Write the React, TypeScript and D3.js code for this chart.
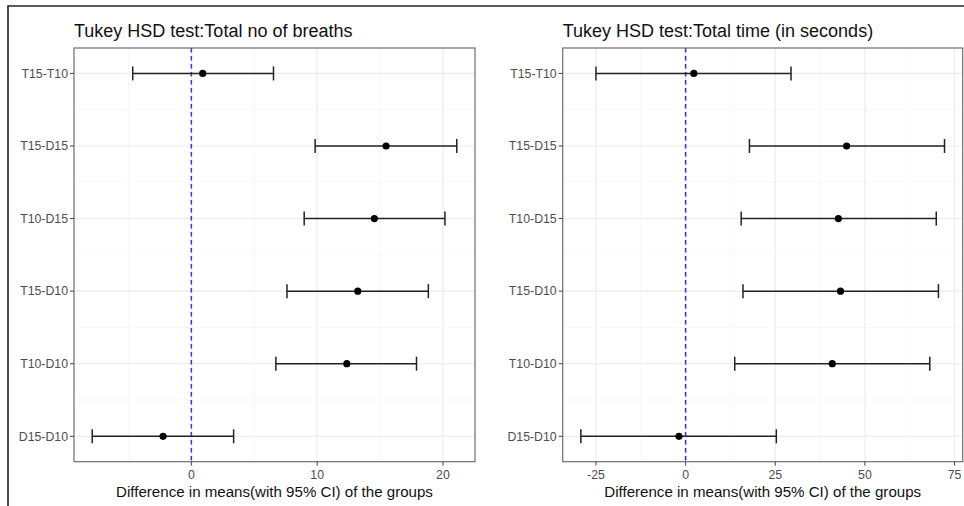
import React from 'react';
import * as d3 from 'd3';

// comparisons, top to bottom
const categories = ['T15-T10', 'T15-D15', 'T10-D15', 'T15-D10', 'T10-D10', 'D15-D10'];

// left panel: total no of breaths
const breathsDiff = [0.9, 15.48, 14.55, 13.23, 12.36, -2.25];
const breathsLwr = [-4.66, 9.84, 8.97, 7.6, 6.72, -7.88];
const breathsUpr = [6.53, 21.1, 20.16, 18.84, 17.9, 3.36];
const breathsTicks = [0, 10, 20];
const breathsMinor = [-5, 5, 15];

// right panel: total time (in seconds)
const timeDiff = [2.3, 44.9, 42.6, 43.2, 40.9, -1.85];
const timeLwr = [-25.0, 17.8, 15.5, 16.0, 13.7, -29.2];
const timeUpr = [29.4, 72.2, 69.9, 70.5, 68.1, 25.3];
const timeTicks = [-25, 0, 25, 50, 75];
const timeMinor = [-12.5, 12.5, 37.5, 62.5];

const FONT = '"Liberation Sans", Arial, Helvetica, sans-serif';
const TOP = 48;
const BOTTOM = 461.7;

type PanelProps = {
  title: string;
  left: number;
  right: number;
  diff: number[];
  lwr: number[];
  upr: number[];
  ticks: number[];
  minor: number[];
};

const Panel = ({ title, left, right, diff, lwr, upr, ticks, minor }: PanelProps) => {
  // ggplot style 5% expansion of the data range
  const lo = d3.min(lwr) as number;
  const hi = d3.max(upr) as number;
  const pad = (hi - lo) * 0.05;
  const x = d3.scaleLinear().domain([lo - pad, hi + pad]).range([left, right]);
  const y = d3.scalePoint<string>().domain(categories).range([TOP, BOTTOM]).padding(0.35);
  const step = y.step();
  const rows = categories.map((c, i) => ({ c, d: diff[i], l: lwr[i], u: upr[i], cy: y(c) as number }));
  const minorY = categories.slice(1).map(c => (y(c) as number) - step / 2);

  return (
    <g>
      <text x={left} y={37} fontSize={18} fill="#111" fontFamily={FONT}>{title}</text>
      {/* grid */}
      {minor.map(v => (
        <line key={'mx' + v} x1={x(v)} x2={x(v)} y1={TOP} y2={BOTTOM} stroke="#F2F2F2" strokeWidth={0.6} />
      ))}
      {minorY.map((v, i) => (
        <line key={'my' + i} x1={left} x2={right} y1={v} y2={v} stroke="#F2F2F2" strokeWidth={0.6} />
      ))}
      {ticks.map(v => (
        <line key={'gx' + v} x1={x(v)} x2={x(v)} y1={TOP} y2={BOTTOM} stroke="#EBEBEB" strokeWidth={1.1} />
      ))}
      {rows.map(r => (
        <line key={'gy' + r.c} x1={left} x2={right} y1={r.cy} y2={r.cy} stroke="#EBEBEB" strokeWidth={1.1} />
      ))}
      {/* zero reference */}
      <line x1={x(0)} x2={x(0)} y1={TOP} y2={BOTTOM} stroke="#3A3AC8" strokeWidth={1.6} strokeDasharray="4.5 3.5" />
      {/* error bars */}
      {rows.map(r => (
        <g key={'eb' + r.c} stroke="#222" strokeWidth={1.5}>
          <line x1={x(r.l)} x2={x(r.u)} y1={r.cy} y2={r.cy} />
          <line x1={x(r.l)} x2={x(r.l)} y1={r.cy - 7} y2={r.cy + 7} />
          <line x1={x(r.u)} x2={x(r.u)} y1={r.cy - 7} y2={r.cy + 7} />
        </g>
      ))}
      {rows.map(r => (
        <circle key={'pt' + r.c} cx={x(r.d)} cy={r.cy} r={3.6} fill="#000" />
      ))}
      {/* panel border */}
      <rect x={left} y={TOP} width={right - left} height={BOTTOM - TOP} fill="none" stroke="#6E6E6E" strokeWidth={1.2} />
      {/* y axis */}
      {rows.map(r => (
        <g key={'yt' + r.c}>
          <line x1={left - 4} x2={left} y1={r.cy} y2={r.cy} stroke="#444" strokeWidth={1} />
          <text x={left - 6} y={r.cy + 4.3} textAnchor="end" fontSize={12.3} fill="#4D4D4D" fontFamily={FONT}>{r.c}</text>
        </g>
      ))}
      {/* x axis */}
      {ticks.map(v => (
        <g key={'xt' + v}>
          <line x1={x(v)} x2={x(v)} y1={BOTTOM} y2={BOTTOM + 4} stroke="#444" strokeWidth={1} />
          <text x={x(v)} y={478.5} textAnchor="middle" fontSize={12.3} fill="#4D4D4D" fontFamily={FONT}>{v}</text>
        </g>
      ))}
      <text x={(left + right) / 2} y={496.5} textAnchor="middle" fontSize={15.1} fill="#111" fontFamily={FONT}>
        Difference in means(with 95% CI) of the groups
      </text>
    </g>
  );
};

export default function App() {
  return (
    <svg width={964} height={506} style={{ position: 'absolute', left: 0, top: 0, background: '#fff' }}>
      <rect width={964} height={506} fill="#fff" />
      <line x1={7.5} x2={964} y1={6} y2={6} stroke="#222" strokeWidth={1.6} />
      <line x1={8} x2={8} y1={5.5} y2={506} stroke="#222" strokeWidth={1.6} />
      <Panel title="Tukey HSD test:Total no of breaths" left={74} right={475}
        diff={breathsDiff} lwr={breathsLwr} upr={breathsUpr} ticks={breathsTicks} minor={breathsMinor} />
      <Panel title="Tukey HSD test:Total time (in seconds)" left={562.7} right={962.7}
        diff={timeDiff} lwr={timeLwr} upr={timeUpr} ticks={timeTicks} minor={timeMinor} />
    </svg>
  );
}
